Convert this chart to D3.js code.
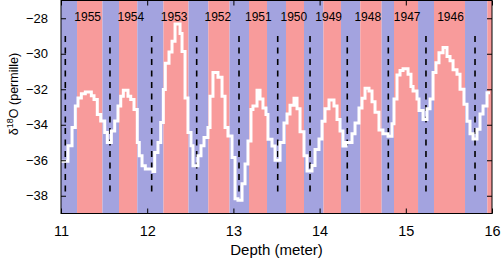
<!DOCTYPE html>
<html>
<head>
<meta charset="utf-8">
<script src="https://cdn.jsdelivr.net/npm/d3@7"></script>
<style>
  body { margin: 0; background: #fff; }
  svg text { font-family: "Liberation Sans", Arial, Helvetica, sans-serif; fill: #000; }
</style>
</head>
<body>
<div id="chart-container"></div>
<script>
// step record: each value holds from its depth until the next depth
const depth = [11.000, 11.081, 11.128, 11.166, 11.197, 11.236, 11.282, 11.352, 11.383, 11.421,
    11.461, 11.507, 11.537, 11.584, 11.623, 11.661, 11.693, 11.723, 11.777, 11.809,
    11.847, 11.885, 11.908, 11.940, 11.978, 12.067, 12.087, 12.125, 12.157, 12.187,
    12.210, 12.253, 12.288, 12.323, 12.381, 12.404, 12.439, 12.473, 12.508, 12.531,
    12.589, 12.624, 12.659, 12.705, 12.729, 12.763, 12.821, 12.868, 12.903, 12.937,
    12.984, 13.019, 13.053, 13.100, 13.135, 13.169, 13.204, 13.227, 13.274, 13.309,
    13.343, 13.378, 13.401, 13.448, 13.483, 13.541, 13.587, 13.622, 13.657, 13.703,
    13.738, 13.773, 13.819, 13.854, 13.912, 13.947, 13.993, 14.028, 14.063, 14.109,
    14.167, 14.202, 14.237, 14.271, 14.306, 14.376, 14.411, 14.457, 14.492, 14.527,
    14.573, 14.608, 14.643, 14.689, 14.735, 14.794, 14.840, 14.863, 14.898, 14.933,
    14.968, 15.026, 15.060, 15.084, 15.130, 15.153, 15.200, 15.246, 15.281, 15.316,
    15.350, 15.385, 15.432, 15.478, 15.513, 15.548, 15.594, 15.629, 15.675, 15.710,
    15.745, 15.780, 15.826, 15.861, 15.896, 15.942, 15.977];
const d18O = [-36.06, -35.19, -34.16, -32.95, -32.49, -32.26, -32.15, -32.36, -32.58, -33.42,
    -33.79, -34.44, -35.00, -34.35, -33.79, -32.95, -32.40, -32.06, -32.40, -32.58,
    -33.14, -35.00, -35.75, -36.31, -36.49, -36.64, -35.56, -35.00, -33.88, -32.02,
    -30.53, -29.90, -29.30, -28.33, -28.86, -29.88, -32.49, -34.44, -35.19, -36.31,
    -35.75, -35.19, -34.72, -34.16, -32.40, -31.06, -31.32, -32.40, -34.16, -34.63,
    -35.85, -38.17, -38.26, -37.33, -36.21, -34.91, -33.14, -32.95, -32.06, -32.55,
    -33.05, -33.42, -34.82, -35.20, -36.00, -35.00, -33.90, -33.40, -32.90, -32.50,
    -33.10, -34.40, -35.75, -36.60, -36.30, -35.40, -34.80, -33.80, -33.10, -32.60,
    -32.95, -33.70, -34.35, -35.20, -35.00, -34.50, -33.90, -33.05, -32.50, -31.95,
    -32.10, -32.70, -33.30, -34.30, -34.50, -34.65, -33.95, -32.55, -31.20, -30.95,
    -30.85, -31.15, -31.85, -32.10, -32.55, -33.20, -33.70, -33.10, -32.55, -31.05,
    -30.50, -29.95, -29.65, -30.15, -30.40, -30.90, -31.15, -32.00, -32.85, -33.80,
    -34.50, -34.80, -34.25, -33.40, -32.95, -32.20, -32.20];

// season band edges (first band is winter)
const bandEdges = [11.0, 11.186, 11.481, 11.673, 11.885, 12.189, 12.479, 12.709, 12.955, 13.181,
    13.390, 13.610, 13.819, 14.045, 14.248, 14.472, 14.720, 14.863, 15.142, 15.327,
    15.687, 15.946, 16.0];

// year boundaries (dashed lines) and year names between them
const yearBounds = [11.050, 11.568, 12.052, 12.574, 13.065, 13.514, 13.889, 14.321, 14.797, 15.234, 15.803];
const years = [1955, 1954, 1953, 1952, 1951, 1950, 1949, 1948, 1947, 1946];

const xTicks = [11, 12, 13, 14, 15, 16];
const yTicks = [-38, -36, -34, -32, -30, -28];

const svgWidth = 501;
const svgHeight = 260;
const margin = { top: 0.5, right: 9, bottom: 46.5, left: 61 };
const width = svgWidth - margin.left - margin.right;
const height = svgHeight - margin.top - margin.bottom;

const svg = d3.select("#chart-container")
    .append("svg")
    .attr("width", svgWidth)
    .attr("height", svgHeight);

const chart = svg.append("g")
    .attr("transform", `translate(${margin.left},${margin.top})`);

const scaleX = d3.scaleLinear().domain([11, 16]).range([0, width]);
const scaleY = d3.scaleLinear().domain([-39, -27]).range([height, 0]);

// alternating winter / summer bands
const bands = d3.pairs(bandEdges).map((p, i) => ({ from: p[0], to: p[1], winter: i % 2 === 0 }));
chart.selectAll(".band")
    .data(bands)
    .enter()
    .append("rect")
    .attr("class", "band")
    .attr("x", d => scaleX(d.from))
    .attr("y", 0)
    .attr("width", d => scaleX(d.to) - scaleX(d.from))
    .attr("height", height)
    .attr("fill", d => d.winter ? "#a3a3df" : "#f89b9b");

// year boundaries
chart.selectAll(".yearline")
    .data(yearBounds)
    .enter()
    .append("line")
    .attr("x1", d => scaleX(d))
    .attr("x2", d => scaleX(d))
    .attr("y1", scaleY(-29))
    .attr("y2", scaleY(-38))
    .attr("stroke", "#000")
    .attr("stroke-width", 1.6)
    .attr("stroke-dasharray", "6,5.5");

const line = d3.line()
    .x((d, i) => scaleX(depth[i]))
    .y(d => scaleY(d))
    .curve(d3.curveStepAfter);

chart.append("path")
    .datum(d18O)
    .attr("fill", "none")
    .attr("stroke", "#fff")
    .attr("stroke-width", 3)
    .attr("d", line);

chart.selectAll(".year")
    .data(years)
    .enter()
    .append("text")
    .attr("class", "year")
    .attr("x", (d, i) => scaleX((yearBounds[i] + yearBounds[i + 1]) / 2))
    .attr("y", scaleY(-28.15))
    .attr("text-anchor", "middle")
    .attr("font-size", "12px")
    .text(d => d);

// axes with inward ticks on all four sides
chart.append("g")
    .attr("transform", `translate(0,${height})`)
    .call(d3.axisBottom(scaleX).tickValues(xTicks).tickFormat(d3.format("d"))
        .tickSizeInner(-5).tickSizeOuter(0).tickPadding(12))
    .call(g => g.select(".domain").remove())
    .call(g => g.selectAll("text").attr("font-size", "14.5px").attr("fill", "#000"));

chart.append("g")
    .call(d3.axisTop(scaleX).tickValues(xTicks).tickSizeInner(-5).tickSizeOuter(0).tickFormat(""))
    .call(g => g.select(".domain").remove());

chart.append("g")
    .call(d3.axisLeft(scaleY).tickValues(yTicks).tickFormat(d3.format("d"))
        .tickSizeInner(-5).tickSizeOuter(0).tickPadding(13))
    .call(g => g.select(".domain").remove())
    .call(g => g.selectAll("text").attr("font-size", "13px").attr("fill", "#000"));

chart.append("g")
    .attr("transform", `translate(${width},0)`)
    .call(d3.axisRight(scaleY).tickValues(yTicks).tickSizeInner(-5).tickSizeOuter(0).tickFormat(""))
    .call(g => g.select(".domain").remove());

chart.append("rect")
    .attr("x", 0)
    .attr("y", 0)
    .attr("width", width)
    .attr("height", height)
    .attr("fill", "none")
    .attr("stroke", "#000")
    .attr("stroke-width", 1);

chart.append("text")
    .attr("x", width / 2)
    .attr("y", height + 41)
    .attr("text-anchor", "middle")
    .attr("font-size", "15px")
    .text("Depth (meter)");

const yLabel = svg.append("text")
    .attr("transform", "translate(18,94) rotate(-90)")
    .attr("text-anchor", "middle")
    .attr("font-size", "12.5px");
yLabel.append("tspan").text("\u03b4");
yLabel.append("tspan").attr("dy", -5).attr("font-size", "9px").text("18");
yLabel.append("tspan").attr("dy", 5).text("O (permille)");
</script>
</body>
</html>
